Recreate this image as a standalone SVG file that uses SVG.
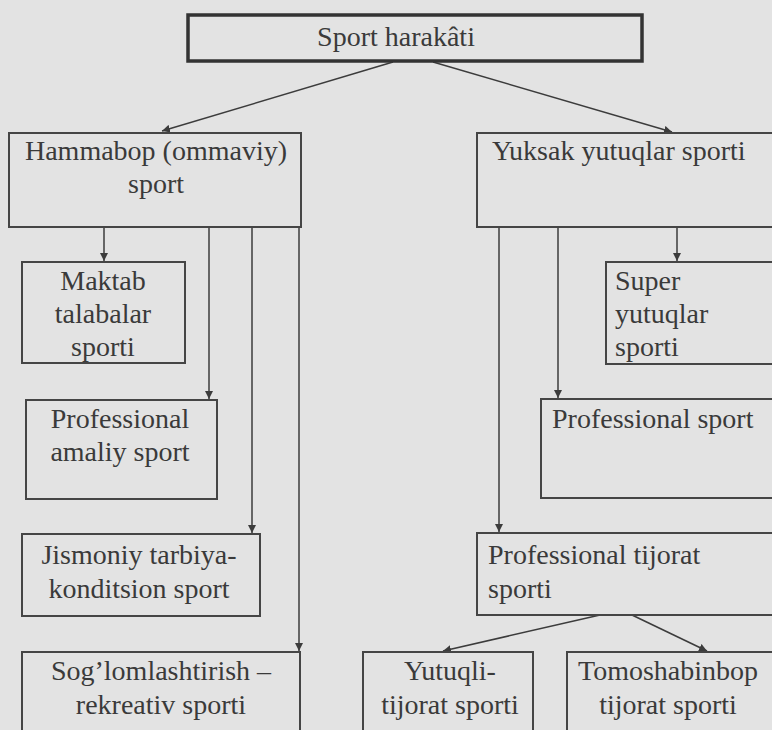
<svg xmlns="http://www.w3.org/2000/svg" width="772" height="730" viewBox="0 0 772 730">
<style>
.bg{fill:#e3e3e3}
.box{fill:none;stroke:#454545;stroke-width:2}
.top{fill:none;stroke:#333;stroke-width:3.5}
.ln{fill:none;stroke:#3c3c3c;stroke-width:1.5}
text{font-family:"Liberation Serif","Times New Roman",serif;font-size:28px;fill:#3a3a3a}
.c{text-anchor:middle}
</style>
<defs>
<marker id="ah" viewBox="0 0 10 10" refX="10" refY="5" markerWidth="8" markerHeight="8" markerUnits="userSpaceOnUse" orient="auto">
<path d="M0,0 L10,5 L0,10 z" fill="#3c3c3c"/>
</marker>
</defs>
<rect class="bg" x="0" y="0" width="772" height="730"/>
<g id="connectors">
<line class="ln" x1="393" y1="62" x2="162" y2="131" marker-end="url(#ah)"/>
<line class="ln" x1="433" y1="62" x2="672" y2="132" marker-end="url(#ah)"/>
<line class="ln" x1="104" y1="227" x2="104" y2="261" marker-end="url(#ah)"/>
<line class="ln" x1="209" y1="227" x2="209" y2="399" marker-end="url(#ah)"/>
<line class="ln" x1="252" y1="227" x2="252" y2="533" marker-end="url(#ah)"/>
<line class="ln" x1="299" y1="227" x2="299" y2="651" marker-end="url(#ah)"/>
<line class="ln" x1="499" y1="227" x2="499" y2="532" marker-end="url(#ah)"/>
<line class="ln" x1="558" y1="227" x2="558" y2="398" marker-end="url(#ah)"/>
<line class="ln" x1="677" y1="227" x2="677" y2="261" marker-end="url(#ah)"/>
<line class="ln" x1="600" y1="615" x2="443" y2="651" marker-end="url(#ah)"/>
<line class="ln" x1="632" y1="615" x2="707" y2="651" marker-end="url(#ah)"/>
</g>
<g id="sport-harakati">
<rect class="top" x="188" y="15" width="454" height="46"/>
<text class="c" x="396" y="46">Sport harakâti</text>
</g>
<g id="hammabop">
<rect class="box" x="9" y="133" width="292" height="94"/>
<text class="c" x="156" y="160">Hammabop (ommaviy)</text>
<text class="c" x="156" y="193">sport</text>
</g>
<g id="yuksak">
<rect class="box" x="477" y="133" width="300" height="94"/>
<text x="492" y="160">Yuksak yutuqlar sporti</text>
</g>
<g id="maktab">
<rect class="box" x="22" y="262" width="163" height="101"/>
<text class="c" x="103" y="290">Maktab</text>
<text class="c" x="103" y="323">talabalar</text>
<text class="c" x="103" y="356">sporti</text>
</g>
<g id="super">
<rect class="box" x="606" y="262" width="170" height="102"/>
<text x="615" y="290">Super</text>
<text x="615" y="323">yutuqlar</text>
<text x="615" y="356">sporti</text>
</g>
<g id="prof-amaliy">
<rect class="box" x="26" y="400" width="191" height="99"/>
<text class="c" x="120" y="428">Professional</text>
<text class="c" x="120" y="461">amaliy sport</text>
</g>
<g id="prof-sport">
<rect class="box" x="541" y="399" width="235" height="99"/>
<text x="552" y="428">Professional sport</text>
</g>
<g id="jismoniy">
<rect class="box" x="22" y="534" width="238" height="82"/>
<text class="c" x="139" y="564">Jismoniy tarbiya-</text>
<text class="c" x="139" y="598">konditsion sport</text>
</g>
<g id="prof-tijorat">
<rect class="box" x="477" y="533" width="299" height="82"/>
<text x="488" y="564">Professional tijorat</text>
<text x="488" y="598">sporti</text>
</g>
<g id="soglom">
<rect class="box" x="22" y="652" width="278" height="90"/>
<text class="c" x="161" y="680">Sog’lomlashtirish –</text>
<text class="c" x="161" y="714">rekreativ sporti</text>
</g>
<g id="yutuqli">
<rect class="box" x="363" y="652" width="170" height="90"/>
<text class="c" x="450" y="680">Yutuqli-</text>
<text class="c" x="450" y="714">tijorat sporti</text>
</g>
<g id="tomoshabinbop">
<rect class="box" x="567" y="652" width="210" height="90"/>
<text class="c" x="668" y="680">Tomoshabinbop</text>
<text class="c" x="668" y="714">tijorat sporti</text>
</g>
</svg>
